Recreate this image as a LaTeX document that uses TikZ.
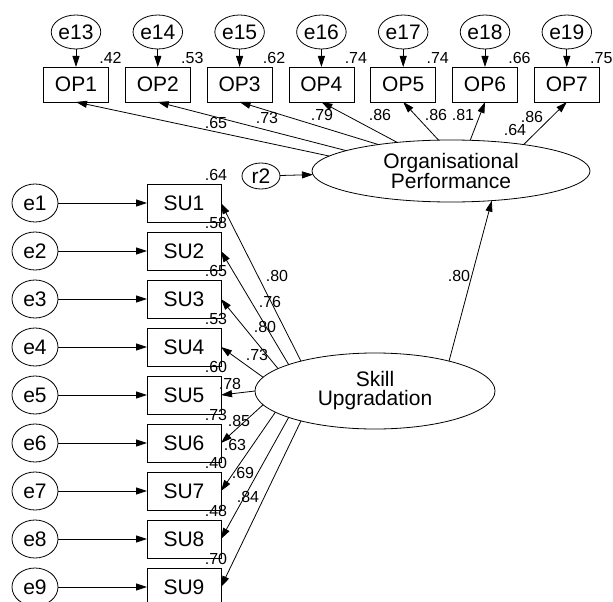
\documentclass[tikz,border=0pt]{standalone}
\usepackage{fontspec}
\setmainfont{Liberation Sans}
\usepackage{tikz}
\usetikzlibrary{arrows.meta,shapes.geometric,calc}
\tikzset{
  obs/.style={draw,rectangle,inner sep=0pt,outer sep=0pt,
    font=\fontsize{21}{19}\selectfont},
  err/.style={draw,ellipse,inner sep=0pt,outer sep=0pt,
    font=\fontsize{21}{19}\selectfont},
  lat/.style={draw,ellipse,inner sep=0pt,outer sep=0pt,align=center,
    font=\fontsize{21}{19}\selectfont},
  num/.style={inner sep=0pt,font=\fontsize{16}{16}\selectfont}
}
\tikzstyle{arrow} = [-{Triangle[length=11pt,width=7pt]}]

\begin{document}
\begin{tikzpicture}[x=1pt,y=-1pt,line width=0.8pt]
  \useasboundingbox (0,0) rectangle (613,602);
  \clip (0,0) rectangle (613,602);
  % latent variables
  \node[lat,minimum width=278pt,minimum height=62pt] (op) at (451,171)
    {Organisational\\Performance};
  \node[lat,minimum width=240pt,minimum height=76pt] (su) at (375,391)
    {Skill\\Upgradation};
  \node[err,minimum width=38pt,minimum height=26pt] (r2) at (261,176) {r2};
  \draw[arrow] (r2) -- (op);
  \draw[arrow] (su.22) -- (op.-36);
  \node[num] at (459,276) {.80};
  \node[num] at (515,130) {.64};
  % organisational performance items
  \foreach \i/\xx/\rsq/\lod/\ang/\lx/\ly in {
      1/76/.42/.65/173.8/216/123, 2/157.8/.53/.73/169.3/267/118,
      3/239.6/.62/.79/160.6/322/115, 4/321.4/.74/.86/152.2/380/115,
      5/403.2/.74/.86/112.5/436/115, 6/485/.66/.81/58.2/463/115,
      7/566.8/.75/.86/20.8/532/117}{
    \pgfmathtruncatemacro{\e}{\i+12}
    \node[obs,minimum width=65pt,minimum height=35pt] (OP\i) at (\xx,84.5) {OP\i};
    \node[err,minimum width=45pt,minimum height=34pt] (e\e) at (\xx,32) {e\e};
    \draw[arrow] (e\e) -- (OP\i);
    \draw[arrow] (op.\ang) -- (OP\i.south);
    \node[num,xshift=2pt,yshift=9pt] at (OP\i.north east) {\rsq};
    \node[num] at (\lx,\ly) {\lod};
  }
  % skill upgradation items
  \foreach \i/\yy/\rsq/\lod/\ang/\lx/\ly in {
      1/203/.64/.80/158.9/277/276, 2/251/.58/.76/163.2/270/302,
      3/299/.65/.80/167.6/265/327, 4/347/.53/.73/173.6/257/355,
      5/395/.60/.78/180.5/230/384, 6/443/.73/.85/187.1/239/421,
      7/491/.40/.63/192.4/235/445, 8/539/.48/.69/197.2/243/473,
      9/587/.70/.84/202.5/248/497}{
    \node[obs,minimum width=74pt,minimum height=38pt] (SU\i) at (184,\yy) {SU\i};
    \node[err,minimum width=46pt,minimum height=38pt] (e\i) at (35,\yy) {e\i};
    \draw[arrow] (e\i) -- (SU\i);
    \draw[arrow] (su.\ang) -- (SU\i.east);
    \node[num,xshift=-5pt,yshift=9pt] at (SU\i.north east) {\rsq};
    \node[num] at (\lx,\ly) {\lod};
  }
\end{tikzpicture}
\end{document}
